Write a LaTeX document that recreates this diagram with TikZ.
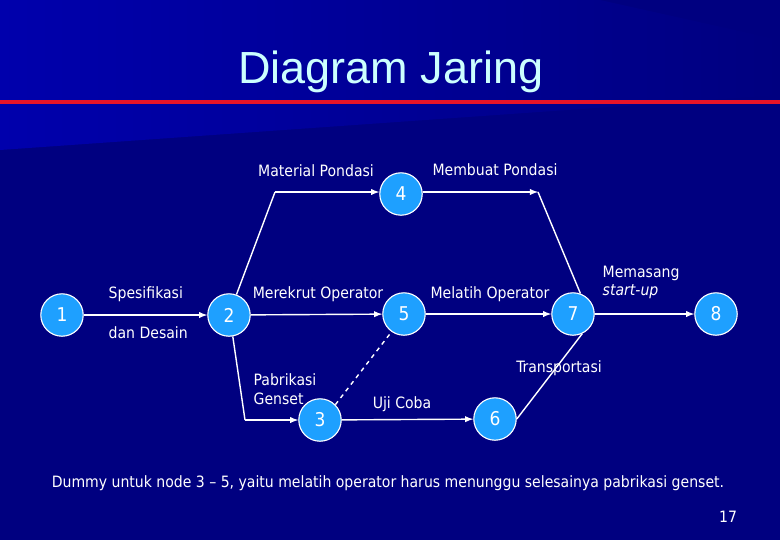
\documentclass[tikz,border=0pt]{standalone}
\usepackage{fontspec}
\setmainfont{DejaVu Sans Condensed}
\newfontfamily\titlefont{Liberation Sans}
\usetikzlibrary{arrows}
\definecolor{bgdark}{RGB}{0,0,128}
\definecolor{bglight}{RGB}{0,0,172}
\definecolor{nodeblue}{RGB}{30,160,255}
\definecolor{titlecyan}{RGB}{204,255,255}
\definecolor{redline}{RGB}{232,20,40}
\begin{document}
\begin{tikzpicture}[x=0.025cm,y=-0.025cm,line width=1pt,>=latex]
\tikzstyle{ev} = [draw=white,line width=0.8pt,fill=nodeblue,shape=circle,minimum size=1.06cm,inner sep=0pt,text=white,font=\fontsize{13.5}{15}\selectfont]
\tikzstyle{lbl} = [text=white,font=\fontsize{11.1}{13}\selectfont,inner sep=0pt]
\tikzstyle{act} = [draw=white,->]
% background
\useasboundingbox (0,0) rectangle (780,540);
\fill[bgdark] (0,0) rectangle (780,540);
\shade[left color=bglight,right color=bgdark] (0,0) -- (600,0) -- (780,40) -- (780,95) -- (0,150) -- cycle;
\fill[redline] (0,99.5) rectangle (780,103.5);
\node[text=titlecyan,font=\titlefont\fontsize{32}{36}\selectfont,anchor=base] (title) at (391,83) {Diagram Jaring};
% events
\node[ev] (n1) at (62,315) {1};
\node[ev] (n2) at (229,315) {2};
\node[ev] (n3) at (320,420) {3};
\node[ev] (n4) at (401,194) {4};
\node[ev] (n5) at (404,314) {5};
\node[ev] (n6) at (495,419) {6};
\node[ev] (n7) at (573,314) {7};
\node[ev] (n8) at (716,314) {8};
\coordinate (b24) at (275,192);
\coordinate (b47) at (538,192);
\coordinate (b23) at (245,420);
% activities
\draw[act] (n1) -- (n2);
\draw[draw=white] (n2.70) -- (b24);
\draw[act] (b24) -- (n4.west |- b24);
\draw[act] (n4.east |- b47) -- (b47);
\draw[draw=white] (b47) -- (n7.70);
\draw[act] (n2) -- (n5);
\draw[act] (n5) -- (n7);
\draw[act] (n7) -- (n8);
\draw[draw=white] (n2.-80) -- (b23);
\draw[act] (b23) -- (n3);
\draw[act] (n3) -- (n6);
\draw[draw=white] (n6.east) -- (n7.-65);
\draw[draw=white,dashed] (n3.45) -- (n5.-125);
% labels
\node[lbl] (l24) at (316,171) {Material Pondasi};
\node[lbl] (l47) at (495,170) {Membuat Pondasi};
\node[lbl,anchor=west] (l12a) at (108,294) {Spesifikasi};
\node[lbl,anchor=west] (l12b) at (108,333) {dan Desain};
\node[lbl] (l25) at (318,294) {Merekrut Operator};
\node[lbl] (l57) at (490,294) {Melatih Operator};
\node[lbl,anchor=west] (l78a) at (602,273) {Memasang};
\node[lbl,anchor=west] (l78b) at (602,292) {\itshape start-up};
\node[lbl,anchor=west] (l23a) at (253,380) {Pabrikasi};
\node[lbl,anchor=west] (l23b) at (253,399) {Genset};
\node[lbl] (l36) at (402,404) {Uji Coba};
\node[lbl] (l67) at (559,368) {Transportasi};
\node[lbl] (note) at (388,483) {Dummy untuk node 3 -- 5, yaitu melatih operator harus menunggu selesainya pabrikasi genset.};
\node[lbl] (page) at (728,517) {17};
\end{tikzpicture}
\end{document}
